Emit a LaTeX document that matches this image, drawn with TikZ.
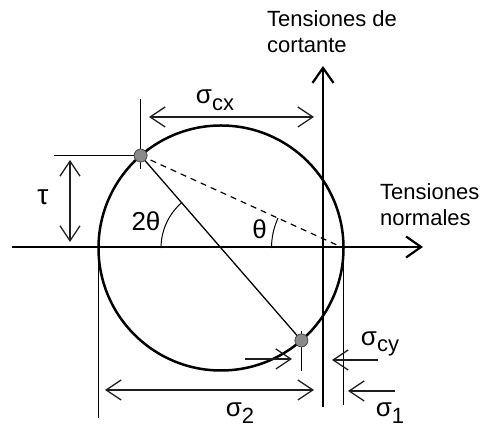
\documentclass[tikz,border=0pt]{standalone}
\usepackage{fontspec}
\setmainfont{Liberation Sans}
\usepackage{tikz}
\usetikzlibrary{arrows.meta,calc,positioning}
\definecolor{dotCol}{HTML}{8A8A8A}
\definecolor{dotEdge}{HTML}{4A4A4A}
\definecolor{dimCol}{HTML}{1E1E1E}
\tikzset{
  axis/.style={-{Straight Barb[length=15pt,width=21pt]}, line width=2.2pt},
  dim/.style={{Straight Barb[length=15pt,width=20pt]}-{Straight Barb[length=15pt,width=20pt]},
        line width=1.3pt, draw=dimCol},
  push/.style={-{Straight Barb[length=15pt,width=20pt]}, line width=1.3pt, draw=dimCol},
  guide/.style={line width=1.7pt},
  pdot/.style={circle, fill=dotCol, draw=dotEdge, line width=0.8pt, minimum size=13pt, inner sep=0pt},
  lbl/.style={font=\fontsize{22}{26}\selectfont, inner sep=0pt},
  glbl/.style={font=\fontsize{26}{26}\selectfont, inner sep=0pt},
  ttl/.style={font=\fontsize{22}{26}\selectfont, align=left, inner sep=0pt, anchor=north west},
}
\newcommand{\sigsub}[1]{{\fontsize{26}{26}\selectfont σ}\raisebox{-0.3em}{#1}}

\begin{document}
\begin{tikzpicture}[x=1pt,y=1pt]
  \useasboundingbox (0,0) rectangle (482,430);
  % circle and its points
  \coordinate (C) at (221,182);
  \coordinate (R) at ($(C)+(0:122.5)$);
  \coordinate (L) at ($(C)+(180:122.5)$);
  \coordinate (pa) at ($(C)+(131:122.5)$);
  \coordinate (pb) at ($(C)+(-49:122.5)$);
  \draw[line width=2.5pt] (C) circle[radius=122.5];
  % axes
  \coordinate (h0) at (12,183);
  \coordinate (h1) at (423,183);
  \coordinate (v0) at (323,23);
  \coordinate (v1) at (323,364);
  \draw[axis] (h0) -- (h1);
  \draw[axis] (v0) -- (v1);
  \node[ttl] (shear) at (267,420) {Tensiones de\\cortante};
  \node[ttl] (normal) at (380,247) {Tensiones\\normales};
  % guide lines
  \coordinate (lb) at (98.5,12);
  \coordinate (rb) at (343.5,25);
  \draw[guide] (L) -- (lb);
  \draw[guide] (R) -- (rb);
  \coordinate (pat) at ($(pa)+(0,57)$);
  \coordinate (pab) at ($(pa)+(0,-13)$);
  \coordinate (pal) at ($(pa)+(-87,0)$);
  \draw[guide] (pat) -- (pab);
  \draw[guide] (pal) -- (pa);
  \coordinate (pbt) at ($(pb)+(0,9)$);
  \coordinate (pbb) at ($(pb)+(0,-31)$);
  \draw[guide] (pbt) -- (pbb);
  % diameter and angle lines
  \draw[line width=1.3pt] (pa) -- (pb);
  \draw[line width=1.2pt, dash pattern=on 6pt off 5pt] (pa) -- (R);
  \draw[line width=1pt] ($(C)+(180:60)$) arc[start angle=180, end angle=131, radius=60];
  \draw[line width=1pt] ($(R)+(180:72)$) arc[start angle=180, end angle=155.4, radius=72];
  \node[glbl] (ang2) at (146,209) {2θ};
  \node[glbl] (ang1) at (259.5,201) {θ};
  \node[pdot] (da) at (pa) {};
  \node[pdot] (db) at (pb) {};
  % dimensions
  \coordinate (cx0) at (149,313);
  \coordinate (cx1) at (314,313);
  \draw[dim] (cx0) -- (cx1);
  \node[lbl] (scx) at (215,330) {\sigsub{cx}};
  \coordinate (t0) at (70,270);
  \coordinate (t1) at (70,188);
  \draw[dim] (t0) -- (t1);
  \node[lbl, font=\fontsize{28}{28}\selectfont] (tau) at (43,233) {τ};
  \coordinate (s20) at (105,40);
  \coordinate (s21) at (314,40);
  \draw[dim] (s20) -- (s21);
  \node[lbl] (s2) at (240,17) {\sigsub{2}};
  \coordinate (s10) at (395,39);
  \coordinate (s11) at (348,39);
  \draw[push] (s10) -- (s11);
  \node[lbl] (s1) at (390,17) {\sigsub{1}};
  \coordinate (cy0) at (245,71);
  \coordinate (cy1) at (292,71);
  \coordinate (cy2) at (378,70);
  \coordinate (cy3) at (332,70);
  \draw[push] (cy0) -- (cy1);
  \draw[push] (cy2) -- (cy3);
  \node[lbl] (scy) at (380,86) {\sigsub{cy}};
\end{tikzpicture}
\end{document}
